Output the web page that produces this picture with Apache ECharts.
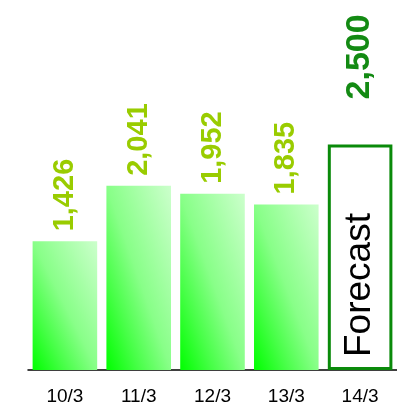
<!DOCTYPE html>
<html><head><meta charset="utf-8">
<script src="https://cdn.jsdelivr.net/npm/echarts@6/dist/echarts.min.js"></script>
<style>html,body{margin:0;padding:0;background:#fff}#c{width:397px;height:413px}</style>
</head><body><div id="c"></div>
<script>
const categories = ['10/3', '11/3', '12/3', '13/3', '14/3'];
const actualValues = [1426, 2041, 1952, 1835];
const forecastValue = 2500;
const forecastText = 'Forecast';

const chart = echarts.init(document.getElementById('c'), null, {renderer: 'canvas'});
const BAR_RATIO = 0.875;
const stops = [
  {offset: 0, color: '#00ff00'},
  {offset: 0.25, color: '#46ff46'},
  {offset: 0.5, color: '#88ff88'},
  {offset: 1, color: '#ccffcc'}
];
const fmt = v => v.toLocaleString('en-US');

function buildData(gradFor) {
  const data = actualValues.map((v, i) => ({
    value: v,
    itemStyle: {color: gradFor(i, v)},
    label: {show: true, position: 'top', rotate: 90, align: 'left', verticalAlign: 'middle', distance: 10,
      formatter: p => fmt(p.value), color: '#99cc00', fontSize: 29, fontWeight: 'bold', fontFamily: 'Liberation Sans'}
  }));
  data.push({
    value: forecastValue,
    itemStyle: {color: '#ffffff', borderColor: '#0a8a0a', borderWidth: 3}
  });
  return data;
}
const labelData = categories.map((c, i) => i === categories.length - 1 ? forecastValue : null);

const option = {
  animation: false,
  grid: {left: 28, right: 0, top: 0, bottom: 43},
  xAxis: {
    type: 'category', data: categories,
    axisLine: {lineStyle: {color: '#000', width: 1.5}},
    axisTick: {inside: true, length: 5, lineStyle: {color: '#000', width: 1.5}},
    axisLabel: {color: '#000', fontSize: 19, fontFamily: 'Liberation Sans', margin: 17}
  },
  yAxis: {type: 'value', min: 0, max: 4100, show: false, splitLine: {show: false}},
  series: [{
    id: 'main', type: 'bar', data: buildData(() => '#66ff66'), barWidth: (BAR_RATIO * 100) + '%'
  }, {
    type: 'bar', data: labelData, barWidth: (BAR_RATIO * 100) + '%', barGap: '-100%',
    itemStyle: {color: 'rgba(0,0,0,0)'}, silent: true,
    label: {show: true, position: 'top', rotate: 90, align: 'left', verticalAlign: 'middle', distance: 45,
      formatter: p => fmt(p.value), color: '#138a13', fontSize: 34, fontWeight: 'bold', fontFamily: 'Liberation Sans'},
    z: 3
  }, {
    type: 'bar', data: labelData, barWidth: (BAR_RATIO * 100) + '%', barGap: '-100%',
    itemStyle: {color: 'rgba(0,0,0,0)'}, silent: true,
    label: {show: true, position: 'insideBottom', rotate: 90, align: 'left', verticalAlign: 'middle', distance: 13,
      formatter: () => forecastText, color: '#000', fontSize: 37, fontFamily: 'Liberation Sans'},
    z: 3
  }]
};
chart.setOption(option);

// Diagonal gradient that behaves like a box-normalised (bottom-left -> top-right) fill
const base = chart.convertToPixel({gridIndex: 0}, [0, 0]);
const next = chart.convertToPixel({gridIndex: 0}, [1, 0]);
const w = (next[0] - base[0]) * BAR_RATIO;
chart.setOption({series: [{id: 'main', data: buildData((i, v) => {
  const top = chart.convertToPixel({gridIndex: 0}, [i, v]);
  const h = Math.abs(base[1] - top[1]);
  const s = h * h + w * w;
  return new echarts.graphic.LinearGradient(0, 1, 2 * h * h / s, 1 - 2 * w * w / s, stops);
})}]});
</script></body></html>
